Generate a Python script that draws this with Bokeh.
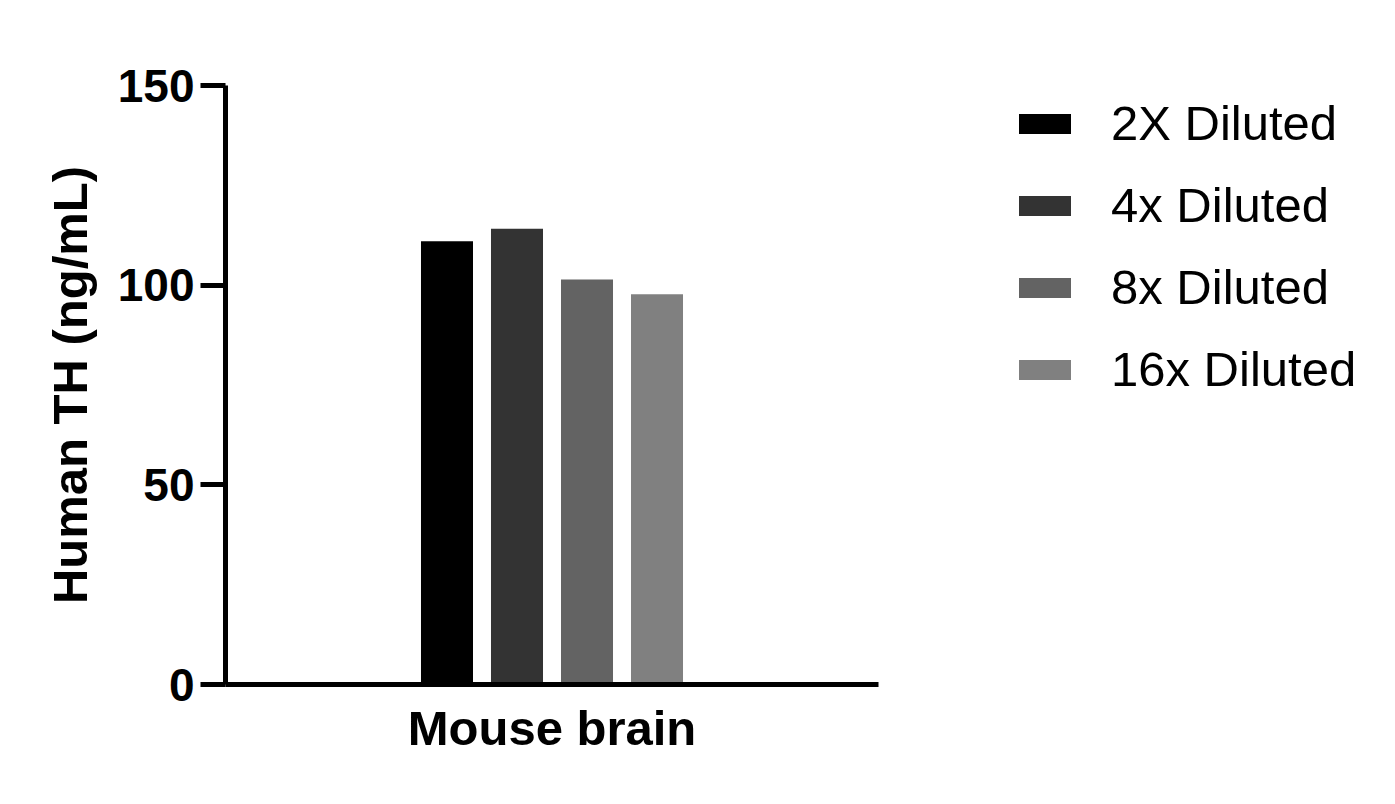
from bokeh.plotting import figure
from bokeh.models import FactorRange, Range1d, Legend, LegendItem, FixedTicker, ColumnDataSource
from bokeh.embed import file_html
from bokeh.resources import INLINE

categories = ["Mouse brain"]
series = ["2X Diluted", "4x Diluted", "8x Diluted", "16x Diluted"]
values = [111.0, 114.1, 101.4, 97.7]
colors = ["#000000", "#333333", "#636363", "#808080"]
y_ticks = [0, 50, 100, 150]
y_label = "Human TH (ng/mL)"

FONT = "Liberation Sans"

p = figure(frame_width=653, frame_height=599, output_backend="svg", toolbar_location=None,
           x_range=FactorRange(factors=series, range_padding=1.332, range_padding_units="percent"),
           y_range=Range1d(0, 150))
p.min_border_left = 225
p.min_border_right = 0
p.min_border_top = 85
p.min_border_bottom = 104
p.outline_line_color = None
p.grid.visible = False
p.background_fill_color = "white"
p.border_fill_color = "white"

src = ColumnDataSource(dict(x=series, top=values, color=colors))
r = p.vbar(x="x", top="top", width=0.743, bottom=0, color="color", line_color=None, source=src)

# y axis
ya = p.yaxis[0]
ya.ticker = FixedTicker(ticks=y_ticks)
ya.axis_line_width = 5
ya.major_tick_line_width = 5
ya.major_tick_out = 25
ya.major_tick_in = 0
ya.minor_tick_line_color = None
ya.major_label_text_font = FONT
ya.major_label_text_font_style = "bold"
ya.major_label_text_font_size = "46px"
ya.major_label_text_color = "black"
ya.major_label_standoff = 6
ya.axis_label = y_label
ya.axis_label_text_font = FONT
ya.axis_label_text_font_style = "bold"
ya.axis_label_text_font_size = "49px"
ya.axis_label_text_color = "black"
ya.axis_label_standoff = 18

# x axis: no tick labels, the category name is the axis label
xa = p.xaxis[0]
xa.ticker = FixedTicker(ticks=[])
xa.axis_line_width = 5
xa.major_tick_line_color = None
xa.minor_tick_line_color = None
xa.major_label_standoff = 0
xa.axis_label = categories[0]
xa.axis_label_text_font = FONT
xa.axis_label_text_font_style = "bold"
xa.axis_label_text_font_size = "49px"
xa.axis_label_text_color = "black"
xa.axis_label_standoff = 16

items = [LegendItem(label=s, renderers=[r], index=i) for i, s in enumerate(series)]
legend = Legend(items=items, location=(134, 287), orientation="vertical",
                glyph_width=65, glyph_height=25, label_height=55, label_standoff=34,
                spacing=26, padding=0, margin=0, border_line_color=None,
                background_fill_alpha=0,
                label_text_font=FONT, label_text_font_size="49px", label_text_color="black")
p.add_layout(legend, "right")

open("out.html", "w").write(file_html(p, INLINE))
